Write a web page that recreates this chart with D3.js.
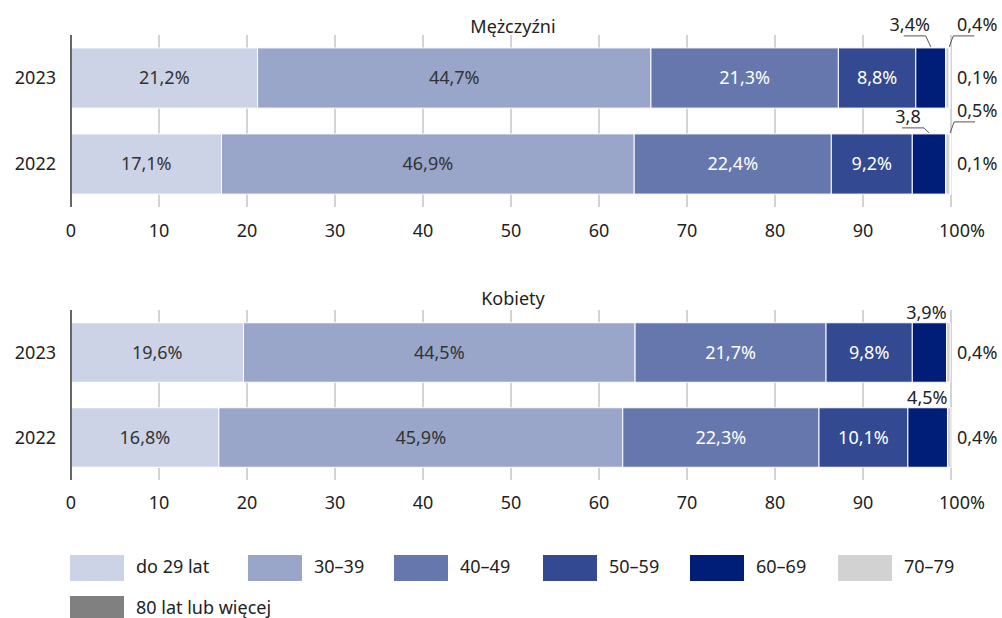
<!DOCTYPE html>
<html><head><meta charset="utf-8">
<script src="https://cdn.jsdelivr.net/npm/d3@7"></script>
<style>
body{margin:0;background:#fff;}
svg{display:block;}
text{font-family:"Noto Sans",sans-serif;fill:#222;}
</style></head>
<body><svg id="c" width="1002" height="618"></svg>
<script>
// ---- data ----
const categories = ["do 29 lat","30–39","40–49","50–59","60–69","70–79","80 lat lub więcej"];
const colors = ["#cdd3e6","#99a6ca","#6677ad","#334a92","#001e78","#d2d2d2","#808080"];
const years = ["2023","2022"];
const men2023 = [21.2,44.7,21.3,8.8,3.4,0.4,0.1];
const men2022 = [17.1,46.9,22.4,9.2,3.8,0.5,0.1];
const women2023 = [19.6,44.5,21.7,9.8,3.9,0.4,0.0];
const women2022 = [16.8,45.9,22.3,10.1,4.5,0.4,0.0];
const ticks = [0,10,20,30,40,50,60,70,80,90,100];
const panelTitles = ["Mężczyźni","Kobiety"];

const FS = "18px";
const svg = d3.select("#c");
const fmt = v => v.toFixed(1).replace(".", ",") + "%";
const x = d3.scaleLinear().domain([0,100]).range([71,951]);

function stack(vals){
  let s = 0;
  return vals.map((v,i)=>{const o={i,v,x0:s,x1:s+v}; s+=v; return o;});
}

function panel(title, data, top, bottom, titleY, labelY, kind){
  const y = d3.scaleBand().domain(years).range([top,bottom]).paddingInner(0.3).paddingOuter(0.15);
  const g = svg.append("g");
  g.append("text").attr("x",513).attr("y",titleY).attr("text-anchor","middle")
    .style("font-size",FS).text(title);
  g.selectAll("line.grid").data(ticks.filter(t=>t>0)).join("line")
    .attr("x1",d=>x(d)).attr("x2",d=>x(d)).attr("y1",top).attr("y2",bottom)
    .attr("stroke","#a8a8a8").attr("stroke-width",1);
  g.selectAll("text.tick").data(ticks).join("text")
    .attr("x",d=>x(d)).attr("y",labelY).attr("text-anchor","middle")
    .style("font-size",FS)
    .text(d=>d===100?"100%":d)
    .attr("dx",d=>d===100?11:0);
  g.selectAll("text.year").data(years).join("text")
    .attr("x",56).attr("y",d=>y(d)+y.bandwidth()/2).attr("dy","0.35em")
    .attr("text-anchor","end").style("font-size",FS).text(d=>d);
  years.forEach((yr,k)=>{
    const segs = stack(data[k]);
    const by = y(yr), bh = y.bandwidth();
    g.selectAll(null).data(segs.filter(s=>s.v>0)).join("rect")
      .attr("x",d=>x(d.x0)).attr("width",d=>x(d.x1)-x(d.x0))
      .attr("y",by).attr("height",bh).attr("fill",d=>colors[d.i])
      .attr("stroke","#fff").attr("stroke-width",1);
    g.selectAll(null).data(segs.filter(s=>s.i<4)).join("text")
      .attr("x",d=>x((d.x0+d.x1)/2)).attr("y",by+bh/2).attr("dy","0.35em")
      .attr("text-anchor","middle").style("font-size",FS)
      .style("fill",d=>d.i>=2?"#fff":"#333").text(d=>fmt(d.v));
    const s60 = segs[4], s70 = segs[5], s80 = segs[6];
    const lineStyle = sel => sel.attr("fill","none").attr("stroke","#555").attr("stroke-width",1);
    if(kind==="men"){
      const xc = x((s60.x0+s60.x1)/2);
      const end = x(s70.x1);
      const lineY = k===0 ? by-12 : by-6;
      const lab60 = k===0 ? fmt(s60.v) : s60.v.toFixed(1).replace(".",",");
      g.append("text").attr("x",xc-21).attr("y",lineY-5).attr("text-anchor","middle")
        .style("font-size",FS).text(lab60);
      g.append("path").call(lineStyle)
        .attr("d",d3.line()([[xc-27,lineY],[xc-5,lineY],[xc,by-1]]));
      const ly2 = by-12;
      g.append("text").attr("x",957).attr("y",ly2-5)
        .style("font-size",FS).text(fmt(s70.v));
      g.append("path").call(lineStyle)
        .attr("d",d3.line()([[end+25,ly2],[end+4,ly2],[end,by-1]]));
      g.append("text").attr("x",957).attr("y",by+bh/2).attr("dy","0.35em")
        .style("font-size",FS).text(fmt(s80.v));
    } else {
      g.append("text").attr("x",x(s60.x1)).attr("y",by-4).attr("text-anchor","end")
        .style("font-size",FS).text(fmt(s60.v));
      g.append("text").attr("x",957).attr("y",by+bh/2).attr("dy","0.35em")
        .style("font-size",FS).text(fmt(s70.v));
    }
  });
  g.append("line").attr("x1",x(0)).attr("x2",x(0)).attr("y1",top).attr("y2",bottom)
    .attr("stroke","#666").attr("stroke-width",2);
}

panel(panelTitles[0],[men2023,men2022],35,207,33,237,"men");
panel(panelTitles[1],[women2023,women2022],310,480,305,509,"women");

// legend
const legendX = [70,248,394,543,690,838,70];
const legendRow = [0,0,0,0,0,0,1];
const lg = svg.append("g");
categories.forEach((c,i)=>{
  const yy = 555 + legendRow[i]*41;
  lg.append("rect").attr("x",legendX[i]).attr("y",yy).attr("width",54).attr("height",26).attr("fill",colors[i]);
  lg.append("text").attr("x",legendX[i]+66).attr("y",yy+12).attr("dy","0.35em")
    .style("font-size",FS).text(c);
});
</script></body></html>
